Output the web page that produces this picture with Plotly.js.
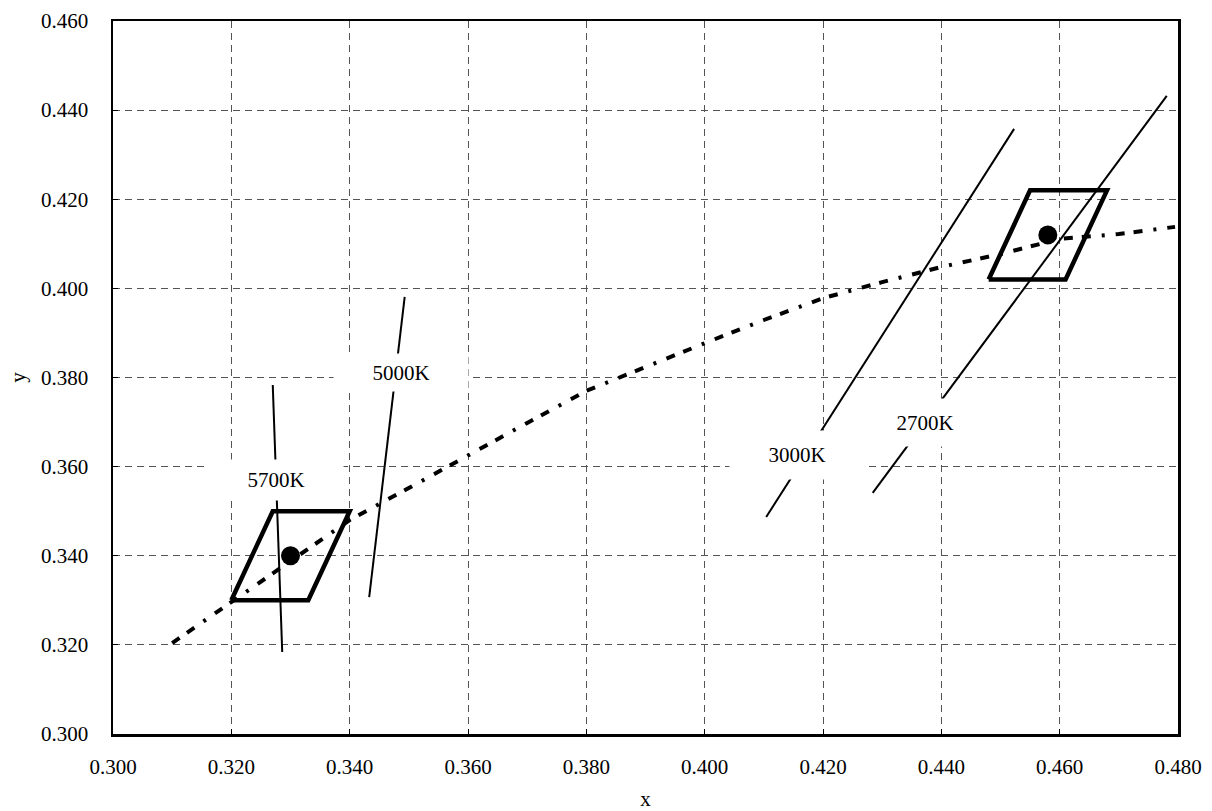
<!DOCTYPE html>
<html>
<head>
<meta charset="utf-8">
<script src="https://cdn.plot.ly/plotly-3.0.1.min.js"></script>
<style>html,body{margin:0;padding:0;background:#fff;}#chart{width:1212px;height:811px;}</style>
</head>
<body>
<div id="chart"></div>
<script>
// Planckian locus
const locusX = [0.310, 0.320, 0.330, 0.340, 0.350, 0.360, 0.370, 0.380, 0.390, 0.400, 0.410, 0.420, 0.430, 0.440, 0.450, 0.460, 0.470, 0.4795];
const locusY = [0.3204, 0.3296, 0.3390, 0.3480, 0.3552, 0.3626, 0.3698, 0.3770, 0.3824, 0.3877, 0.3929, 0.3978, 0.4014, 0.4048, 0.4077, 0.4111, 0.4122, 0.4138];

// Tolerance quadrangles
const quad5700X = [0.320, 0.327, 0.340, 0.333, 0.320];
const quad5700Y = [0.330, 0.350, 0.350, 0.330, 0.330];
const quad2700X = [0.448, 0.455, 0.468, 0.461, 0.448];
const quad2700Y = [0.402, 0.422, 0.422, 0.402, 0.402];

// Centre points
const centerX = [0.330, 0.458];
const centerY = [0.340, 0.412];

// Isotherm lines (CCT)
const isoNames = ["5700K", "5000K", "3000K", "2700K"];
const isoX = [[0.3270, 0.3286], [0.3493, 0.3433], [0.4523, 0.4104], [0.4781, 0.4284]];
const isoY = [[0.3783, 0.3184], [0.3981, 0.3307], [0.4358, 0.3487], [0.4432, 0.3541]];
const isoLabelX = [0.3275, 0.3487, 0.4156, 0.4372];
const isoLabelY = [0.3570, 0.3812, 0.3626, 0.3698];

const xTicks = [0.300, 0.320, 0.340, 0.360, 0.380, 0.400, 0.420, 0.440, 0.460, 0.480];
const yTicks = [0.300, 0.320, 0.340, 0.360, 0.380, 0.400, 0.420, 0.440, 0.460];

const FONT = "'Liberation Serif', 'Times New Roman', serif";
const traces = [];
traces.push({x: locusX, y: locusY, mode: "lines", line: {color: "#000", width: 4, dash: "9px,9px,9px,11px,3px,11px"}, hoverinfo: "skip"});
traces.push({x: quad5700X, y: quad5700Y, mode: "lines", line: {color: "#000", width: 4.5}, hoverinfo: "skip"});
traces.push({x: quad2700X, y: quad2700Y, mode: "lines", line: {color: "#000", width: 4.5}, hoverinfo: "skip"});
for (let i = 0; i < isoNames.length; i++) {
  traces.push({x: isoX[i], y: isoY[i], mode: "lines", name: isoNames[i], line: {color: "#000", width: 2}, hoverinfo: "skip"});
}
traces.push({x: centerX, y: centerY, mode: "markers", marker: {color: "#000", size: 19}, hoverinfo: "skip"});

const boxH = [40, 37, 48, 47];
const annotations = isoNames.map((n, i) => ({
  x: isoLabelX[i], y: isoLabelY[i], xref: "x", yref: "y", text: n, showarrow: false,
  bgcolor: "#fff", width: 134, height: boxH[i], borderpad: 0,
  font: {family: FONT, size: 21, color: "#000"}
}));

const axisCommon = {
  showline: true, linecolor: "#000", linewidth: 2.5, mirror: true,
  ticks: "inside", ticklen: 5, tickcolor: "#000", tickwidth: 1,
  showgrid: true, gridcolor: "#555", gridwidth: 1, griddash: "7px,5px",
  zeroline: false, tickformat: ".3f",
  tickfont: {family: FONT, size: 21, color: "#000"}
};

const layout = {
  width: 1212, height: 811,
  margin: {l: 113, r: 34, t: 21, b: 77},
  paper_bgcolor: "#fff", plot_bgcolor: "#fff",
  showlegend: false,
  font: {family: FONT, color: "#000"},
  xaxis: Object.assign({}, axisCommon, {range: [0.300, 0.480], tickvals: xTicks, ticklabelstandoff: 12,
    title: {text: "x", font: {family: FONT, size: 21, color: "#000"}, standoff: 16}}),
  yaxis: Object.assign({}, axisCommon, {range: [0.300, 0.460], tickvals: yTicks, ticklabelstandoff: 18,
    title: {text: "y", font: {family: FONT, size: 21, color: "#000"}, standoff: 10}}),
  annotations: annotations
};

Plotly.newPlot("chart", traces, layout, {staticPlot: true});
</script>
</body>
</html>
